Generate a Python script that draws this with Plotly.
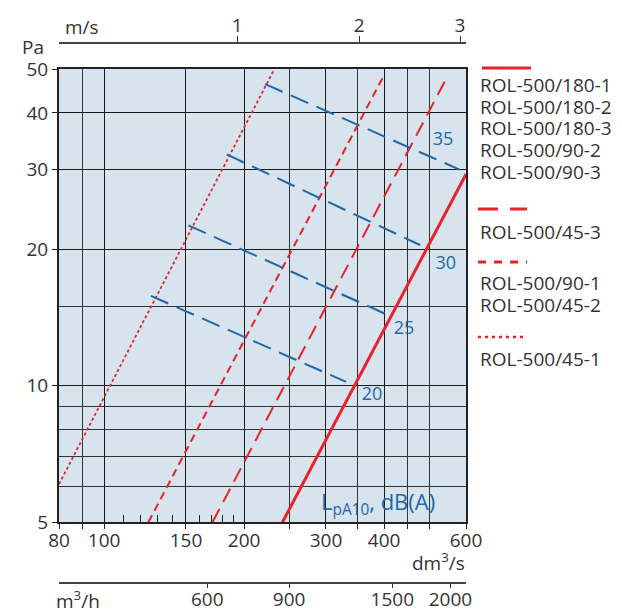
import math
import plotly.graph_objects as go

# ---------------- data ----------------
# pressure-drop curves: flow dm3/s vs pressure Pa
solid_q = [241.8, 600.0]
solid_p = [5.0, 29.3]
longdash_q = [171.0, 547.0]
longdash_p = [5.0, 48.1]
meddash_q = [124.5, 400.0]
meddash_p = [5.0, 48.5]
dotted_q = [80.0, 232.4]
dotted_p = [6.07, 50.0]

# sound level lines LpA10 dB(A)
sound_levels = ["35", "30", "25", "20"]
sound_q = [[222.0, 581.0], [183.5, 478.0], [151.8, 415.6], [126.1, 331.5]]
sound_p = [[46.3, 30.0], [32.4, 20.45], [22.6, 14.2], [15.8, 10.2]]
sound_label_q = [535.6, 543.0, 441.6, 377.0]
sound_label_p = [34.7, 18.5, 13.3, 9.5]

# axes
x_tick_vals = [80, 100, 150, 200, 300, 400, 600]
x_grid_extra = [90, 250, 350, 450, 500]
x_small_ticks = [110, 120, 130, 140, 160, 170, 180, 190]
y_tick_vals = [5, 10, 20, 30, 40, 50]
y_grid_extra = [6, 7, 8, 9, 15]
ms_tick_labels = ["1", "2", "3"]
ms_tick_flows = [193.4, 353.7, 582.5]
m3h_ticks = [600, 900, 1500, 2000]

legend_groups = [
    ("solid", ["ROL-500/180-1", "ROL-500/180-2", "ROL-500/180-3", "ROL-500/90-2", "ROL-500/90-3"]),
    ("longdash", ["ROL-500/45-3"]),
    ("dash", ["ROL-500/90-1", "ROL-500/45-2"]),
    ("dot", ["ROL-500/45-1"]),
]

# ---------------- styles ----------------
RED = "#e8222b"
BLUE = "#1f67a7"
TXT = "#333333"
FONT = "Open Sans"
OFF = 8  # default page body margin
W, H = 622 - OFF, 613 - OFF
# paper area in window pixels: x 59..466, y 43..583
PX0, PX1, PY0, PY1 = 59, 466, 43, 583
ML, MR, MT, MB = PX0 - OFF, 622 - PX1, PY0 - OFF, 613 - PY1
PW = PX1 - PX0
PH = PY1 - PY0


def px(x):
    return (x - PX0) / PW


def py(y):
    return (PY1 - y) / PH


dash_styles = {
    "solid": dict(width=3, dash="solid"),
    "longdash": dict(width=2, dash="15px,8px"),
    "dash": dict(width=2, dash="8px,5px"),
    "dot": dict(width=1.8, dash="3px,2.5px"),
}

fig = go.Figure()
for key, q, p in [("solid", solid_q, solid_p), ("longdash", longdash_q, longdash_p),
                  ("dash", meddash_q, meddash_p), ("dot", dotted_q, dotted_p)]:
    fig.add_trace(go.Scatter(x=q, y=p, mode="lines", line=dict(color=RED, **dash_styles[key]),
                             showlegend=False, hoverinfo="skip"))

for lvl, q, p in zip(sound_levels, sound_q, sound_p):
    fig.add_trace(go.Scatter(x=q, y=p, mode="lines",
                             line=dict(color=BLUE, width=2, dash="19px,9px"),
                             showlegend=False, hoverinfo="skip"))

fig.add_trace(go.Scatter(x=sound_label_q, y=sound_label_p, mode="text", text=sound_levels,
                         textfont=dict(color=BLUE, size=18, family=FONT),
                         showlegend=False, hoverinfo="skip"))

# dummy invisible traces so that secondary axes render
for ax in ["x2", "x3", "x4"]:
    fig.add_trace(go.Scatter(x=[100], y=[10], xaxis=ax, yaxis="y", mode="markers",
                             marker=dict(opacity=0), showlegend=False, hoverinfo="skip"))

xr = [math.log10(80), math.log10(600)]
yr = [math.log10(5), math.log10(50)]
ydom = [py(522.3), py(69)]

fig.update_layout(
    template="none",
    width=W, height=H,
    margin=dict(l=ML, r=MR, t=MT, b=MB, autoexpand=False),
    paper_bgcolor="white",
    plot_bgcolor="#d7e4ee",
    font=dict(family=FONT, color=TXT, size=19),
    xaxis=dict(type="log", range=xr, tickvals=x_tick_vals, ticktext=[str(v) for v in x_tick_vals],
               ticks="outside", ticklen=5, tickcolor="#222", tickwidth=1.3, automargin=False,
               ticklabelstandoff=-5,
               showgrid=True, gridcolor="#1a1a1a", gridwidth=1.3,
               showline=True, linecolor="#222", linewidth=2, mirror=True,
               tickfont=dict(size=19, color=TXT), zeroline=False,
               minor=dict(tickmode="array", tickvals=x_grid_extra, showgrid=True, gridcolor="#333",
                          gridwidth=1.3, ticks="outside", ticklen=5, tickcolor="#222")),
    xaxis2=dict(type="log", range=xr, overlaying="x", side="top", anchor="free", position=1,
                tickvals=ms_tick_flows, ticktext=ms_tick_labels, ticks="outside", ticklen=6,
                tickcolor="#333", tickwidth=1.3, showgrid=False, showline=True, linecolor="#444",
                ticklabelstandoff=-3,
                linewidth=1.5, tickfont=dict(size=19, color=TXT), zeroline=False, automargin=False),
    xaxis3=dict(type="log", range=xr, overlaying="x", side="bottom", anchor="y",
                tickvals=x_small_ticks, ticks="inside", ticklen=7, tickcolor="#222", tickwidth=1.3,
                showticklabels=False, showgrid=False, showline=False, zeroline=False,
                automargin=False),
    xaxis4=dict(type="log", range=xr, overlaying="x", side="bottom", anchor="free", position=0,
                tickvals=[v / 3.6 for v in m3h_ticks], ticktext=[str(v) for v in m3h_ticks],
                ticks="outside", ticklen=4, tickcolor="#333", tickwidth=1.3, showgrid=False,
                showline=True, linecolor="#444", linewidth=1.5, automargin=False,
                ticklabelstandoff=-5,
                tickfont=dict(size=19, color=TXT), zeroline=False),
    yaxis=dict(type="log", range=yr, domain=ydom, tickvals=y_tick_vals,
               ticktext=[str(v) for v in y_tick_vals], automargin=False,
               ticks="outside", ticklen=5, tickcolor="#222", tickwidth=1.3,
               showgrid=True, gridcolor="#1a1a1a", gridwidth=1.3,
               showline=True, linecolor="#222", linewidth=2, mirror=True,
               tickfont=dict(size=19, color=TXT), zeroline=False,
               minor=dict(tickmode="array", tickvals=y_grid_extra, showgrid=True, gridcolor="#333",
                          gridwidth=1.3, ticks="")),
)


def add_text(ann, text, x, y, xanchor="center", size=19, color=TXT, height=None):
    a = dict(text=text, x=px(x), y=py(y), xref="paper", yref="paper",
             xanchor=xanchor, yanchor="middle", showarrow=False,
             font=dict(size=size, color=color, family=FONT))
    if height is not None:
        a["height"] = height
        a["valign"] = "middle"
    ann.append(a)


ann = []
add_text(ann, "Pa", 33, 47)
add_text(ann, "m/s", 82, 27)
add_text(ann, "dm<sup>3</sup>/s", 467, 562, xanchor="right")
add_text(ann, "m<sup>3</sup>/h", 54, 600, xanchor="left")
add_text(ann, "L<sub>pA10</sub>, dB(A)", 378, 503, size=22, color=BLUE)

# legend (drawn as shapes + text)
legend_sample_y = [68, 209, 262, 337]
legend_text_y = [[85, 107, 128, 150, 172], [232], [283, 305], [359]]
shapes = []
for (key, names), sy, tys in zip(legend_groups, legend_sample_y, legend_text_y):
    x0 = 482 if key == "solid" else 478
    shapes.append(dict(type="line", xref="paper", yref="paper", x0=px(x0), x1=px(x0 + 49),
                       y0=py(sy), y1=py(sy),
                       line=dict(color=RED, width=3 if key != "dot" else 2.5,
                                 dash={"solid": "solid", "longdash": "20px,12px",
                                       "dash": "8px,8px", "dot": "3px,4px"}[key])))
    for name, ty in zip(names, tys):
        add_text(ann, name, 478, ty, xanchor="left", height=20)

fig.update_layout(annotations=ann, shapes=shapes)
fig.write_html("out.html")
